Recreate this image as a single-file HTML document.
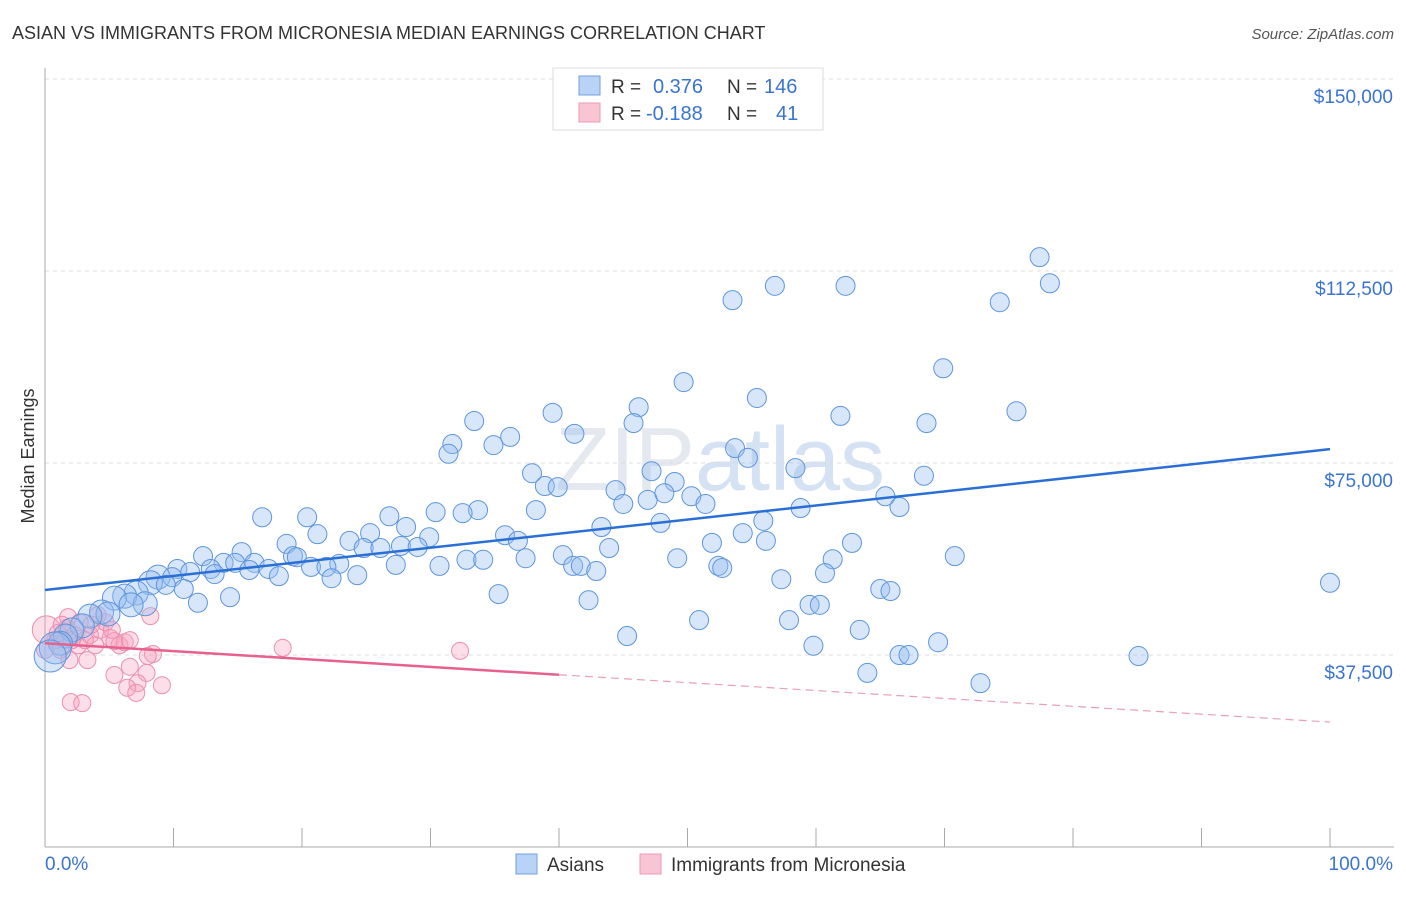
<!DOCTYPE html>
<html><head><meta charset="utf-8"><style>
body{margin:0;background:#fff;font-family:"Liberation Sans",sans-serif}
svg text{font-family:"Liberation Sans",sans-serif}
</style></head><body>
<svg id="chart" width="1406" height="892" viewBox="0 0 1406 892" xmlns="http://www.w3.org/2000/svg">
<text x="12" y="39" font-size="18" fill="#333">ASIAN VS IMMIGRANTS FROM MICRONESIA MEDIAN EARNINGS CORRELATION CHART</text>
<text x="1394" y="39" font-size="15" fill="#555" font-style="italic" text-anchor="end">Source: ZipAtlas.com</text>
<text x="720" y="490" font-size="90" fill="#e4e8ef" text-anchor="middle" font-family="Liberation Serif">ZIP<tspan fill="#d5e2f3" font-family="Liberation Sans">atlas</tspan></text>
<g id="grid"></g>
<g id="axes"></g>
<g id="pinkPts"></g>
<g id="bluePts"></g>
<g id="trends"></g>
<text transform="translate(34,456) rotate(-90)" font-size="18" fill="#333" text-anchor="middle">Median Earnings</text>
<g>
<rect x="553" y="68" width="270" height="62" fill="#fff" stroke="#ddd"/>
<rect x="579" y="76" width="21" height="19" fill="#b8d3f5" stroke="#6fa0e0"/>
<rect x="579" y="103" width="21" height="19" fill="#f9c5d5" stroke="#ec9ab4"/>
<text x="611" y="93" font-size="19" fill="#333">R = </text><text x="653" y="93" font-size="20" fill="#3a74d0">0.376</text>
<text x="727" y="93" font-size="19" fill="#333">N = </text><text x="764" y="93" font-size="20" fill="#3a74d0">146</text>
<text x="611" y="120" font-size="19" fill="#333">R = </text><text x="646" y="120" font-size="20" fill="#3a74d0">-0.188</text>
<text x="727" y="120" font-size="19" fill="#333">N = </text><text x="776" y="120" font-size="20" fill="#3a74d0">41</text>
</g>
<g>
<rect x="516" y="854" width="21" height="20" fill="#b8d3f5" stroke="#6fa0e0"/>
<text x="547" y="871" font-size="19" fill="#333">Asians</text>
<rect x="640" y="854" width="21" height="20" fill="#f9c5d5" stroke="#ec9ab4"/>
<text x="671" y="871" font-size="19" fill="#333">Immigrants from Micronesia</text>
</g>
</svg>
<script>
const yTicks=[37500,75000,112500,150000];
const yTickLabels=["$37,500","$75,000","$112,500","$150,000"];
const xTickLabels=["0.0%","100.0%"];
const blueX=[77.4,78.2,56.8,62.3,53.5,74.3,69.9,49.7,55.4,46.2,75.6,39.5,61.9,33.4,45.8,68.6,41.2,36.2,34.9,31.7,31.4,53.7,54.7,58.4,37.9,47.2,68.4,49,38.9,39.9,44.4,46.9,48.2,50.3,65.4,51.4,45,66.5,58.8,33.7,38.2,30.4,32.5,16.9,20.4,26.8,47.9,55.9,43.3,28.1,21.2,35.8,54.3,25.3,29.9,23.7,18.8,36.8,56.1,51.9,62.8,24.8,26.1,27.7,29,43.9,15.3,19.3,19.6,12.3,40.3,70.8,49.2,37.4,61.3,32.8,34.1,13.9,16.3,14.8,22.9,27.3,30.7,12.9,10.3,17.4,20.7,21.9,41.1,41.7,52.4,52.7,42.9,11.3,15.9,18.2,13.2,24.3,60.7,22.3,8.8,9.9,57.3,100,8.2,9.4,10.8,65,65.8,7.1,35.3,6.2,5.4,14.4,42.3,7.8,6.7,11.9,59.5,60.3,4.4,4.9,3.5,50.9,57.9,2.9,2.1,45.3,63.4,1.6,1.2,69.5,59.8,0.8,66.5,67.2,85.1,0.4,64,72.8];
const blueY=[115.2,110.1,109.6,109.6,106.8,106.4,93.5,90.8,87.7,85.9,85.1,84.8,84.2,83.2,82.8,82.8,80.7,80.1,78.5,78.7,76.8,77.9,76.0,74.0,73.0,73.4,72.5,71.3,70.5,70.3,69.7,67.8,69.1,68.5,68.5,67.0,67.0,66.4,66.2,65.8,65.8,65.4,65.2,64.4,64.4,64.6,63.3,63.7,62.5,62.5,61.1,60.9,61.3,61.3,60.5,59.8,59.2,59.8,59.8,59.4,59.4,58.4,58.4,58.8,58.6,58.4,57.6,56.8,56.6,56.8,57.0,56.8,56.4,56.4,56.2,56.1,56.1,55.5,55.5,55.5,55.3,55.1,54.9,54.3,54.3,54.3,54.7,54.7,54.9,54.9,54.9,54.5,53.9,53.7,54.1,52.9,53.3,53.1,53.5,52.5,52.7,52.7,52.3,51.6,51.6,51.2,50.4,50.4,50.0,49.6,49.4,49.0,48.6,48.8,48.2,47.5,47.3,47.7,47.3,47.3,45.9,45.5,45.1,44.3,44.3,43.2,42.4,41.2,42.4,41.2,39.8,40.0,39.3,38.9,37.5,37.5,37.3,37.3,34.0,32.0];
const pinkX=[0.1,1.7,0.8,1.2,2.7,3.5,4.3,5.1,5.8,3.3,2.6,8.2,1.9,6.2,5.4,3.9,1.8,4.7,18.5,32.3,8.4,8.0,6.6,5.4,7.9,7.2,6.4,7.1,9.1,2.0,2.9,2.3,3.1,1.0,1.3,4.1,0,5.2,2.1,6.6,3.6];
const pinkY=[42.4,42.8,40.4,38.5,43.9,41.4,42.4,40.8,39.4,36.5,39.4,45.1,36.5,40.0,40.2,39.4,44.9,43.9,38.9,38.3,37.7,37.3,35.2,33.6,34.0,32.0,31.1,30.1,31.6,28.3,28.1,41.4,40.4,41.8,43.4,45.3,38.5,42.4,40.4,40.4,43.4];
const blueTrend=[50.2,77.7];
const pinkTrend=[39.8,24.4];
const pinkSolidEnd=40;
const NS="http://www.w3.org/2000/svg";
const X0=45,X1=1330,Y0=847,YTOP=79;
function sx(p){return X0+(X1-X0)*p/100;}
function sy(v){return Y0-(Y0-YTOP)*v/150000;}
function mk(tag,attrs,parent){const e=document.createElementNS(NS,tag);for(const k in attrs)e.setAttribute(k,attrs[k]);parent.appendChild(e);return e;}
const grid=document.getElementById('grid'),axes=document.getElementById('axes');
yTicks.forEach((t,i)=>{
  const l=mk('line',{x1:45,x2:1394,y1:sy(t),y2:sy(t),stroke:'#dcdcdc','stroke-dasharray':'4,4'},grid);
  
  
  const tx=mk('text',{x:1393,y:sy(t)+24,'font-size':19,fill:'#3a74d0','text-anchor':'end'},axes);
  tx.textContent=yTickLabels[i];
  
  
});
const gl=mk('line',{x1:45,x2:1394,y1:sy(150000),y2:sy(150000),stroke:'#dcdcdc','stroke-dasharray':'4,4'},grid);
mk('line',{x1:45,x2:45,y1:68,y2:847,stroke:'#aaa'},axes);
mk('line',{x1:45,x2:1394,y1:847,y2:847,stroke:'#aaa'},axes);
for(let i=1;i<=10;i++){const t=mk('line',{x1:sx(i*10),x2:sx(i*10),y1:828,y2:847,stroke:'#aaa'},axes);
  
  }
const xl0=mk('text',{x:45,y:870,'font-size':19,fill:'#3a74d0'},axes);xl0.textContent=xTickLabels[0];


const xl1=mk('text',{x:1393,y:870,'font-size':19,fill:'#3a74d0','text-anchor':'end'},axes);xl1.textContent=xTickLabels[1];


const bp=document.getElementById('bluePts'),pp=document.getElementById('pinkPts');
pinkX.forEach((x,i)=>{const c=mk('circle',{cx:sx(x),cy:sy(pinkY[i]*1000),r:i===0?14:8.5,fill:'rgba(245,160,190,0.35)',stroke:'#ec8fb0','stroke-width':1},pp);
  
  });
blueX.forEach((x,i)=>{const r=x<1?16:(x<9?12:9.5);const c=mk('circle',{cx:sx(x),cy:sy(blueY[i]*1000),r:r,fill:'rgba(150,190,240,0.38)',stroke:'#5f95dc','stroke-width':1},bp);
  
  });
const tr=document.getElementById('trends');
const b=mk('line',{x1:sx(0),y1:sy(blueTrend[0]*1000),x2:sx(100),y2:sy(blueTrend[1]*1000),stroke:'#2a6fd6','stroke-width':2.5},tr);


const pm=pinkTrend[0]+(pinkTrend[1]-pinkTrend[0])*pinkSolidEnd/100;
const p1=mk('line',{x1:sx(0),y1:sy(pinkTrend[0]*1000),x2:sx(pinkSolidEnd),y2:sy(pm*1000),stroke:'#e8608e','stroke-width':2.5},tr);


const p2=mk('line',{x1:sx(pinkSolidEnd),y1:sy(pm*1000),x2:sx(100),y2:sy(pinkTrend[1]*1000),stroke:'#e8a0b8','stroke-width':1.2,'stroke-dasharray':'8,5'},tr);


</script>
</body></html>
